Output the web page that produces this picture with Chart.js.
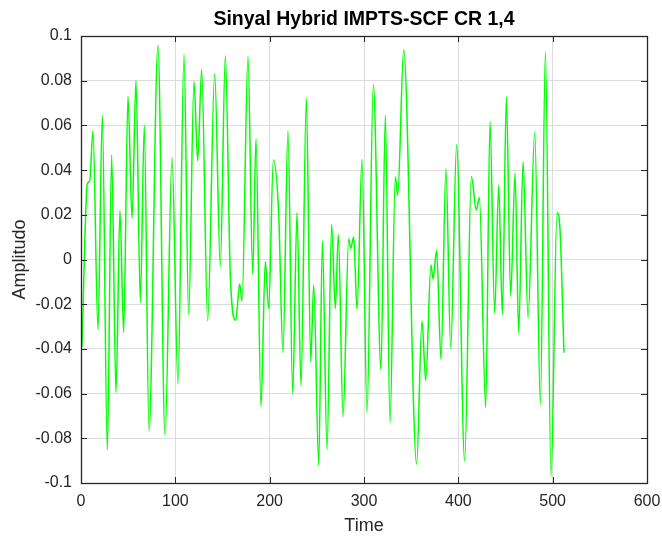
<!DOCTYPE html>
<html>
<head>
<meta charset="utf-8">
<script src="https://cdn.jsdelivr.net/npm/chart.js@4"></script>
<style>
  html, body { margin: 0; padding: 0; background: #fff; }
  #wrap { width: 662px; height: 539px; }
</style>
</head>
<body>
<div id="wrap"><canvas id="signalChart" width="662" height="539"></canvas></div>
<script>
// peaks and troughs
const timePoints = [
  1, 6.7, 9.2, 12.7, 18, 22.6, 27.9, 32.5, 37.1, 41.3, 45.2, 49.8, 54.1, 58.3, 62.9, 67.1, 72.1,
  81.6, 89.1, 96.5, 102.8, 109.2, 114.1, 119.8, 123.7, 127.9, 134.3, 141.7, 147.7, 153.0, 158.3,
  164.0, 168.2, 170.7, 177.0, 182.0, 185.5, 190.8, 195.4, 199.0, 203.9, 209.6, 214.1, 219.4,
  224.4, 229.0, 233.2, 238.9, 243.5, 246.7, 252.0, 255.9, 260.8, 265.7, 269.6, 272.8, 277.8,
  283.8, 285.9, 289.1, 292.6, 297.9, 303.2, 309.9, 318.0, 322.6, 327.6, 333.2, 335.7, 342.1,
  355.8, 361.5, 365.4, 371.0, 373.2, 377.0, 381.6, 386.9, 391.9, 398.2, 406.7, 413.8, 419.1,
  422.3, 429.0, 433.6, 438.5, 442.8, 446.7, 450.9, 455.5, 460.1, 464.0, 468.6, 473.9, 481.0,
  487.0, 492.3, 498.3, 504.6, 507.7, 512
];
const amplitudeValues = [
  -0.039, 0.034, 0.035, 0.0576, -0.0314, 0.0645, -0.0853, 0.0468, -0.0595, 0.0219, -0.0327, 0.073,
  0.0184, 0.080, -0.019, 0.060, -0.0768, 0.0959, -0.0786, 0.0458, -0.0557, 0.0919, -0.0247, 0.0796,
  0.0441, 0.085, -0.0275, 0.0832, -0.003, 0.0912, -0.0073, -0.0272, -0.011, -0.0186, 0.0909,
  -0.0065, 0.0539, -0.0657, -0.0009, -0.022, 0.0445, 0.0201, -0.0417, 0.0577, -0.0601, 0.0209,
  -0.0565, 0.0722, -0.0457, -0.0114, -0.092, 0.0083, -0.0852, 0.0157, -0.022, 0.0112, -0.0704,
  0.0093, 0.005, 0.0101, -0.0223, 0.0448, -0.0687, 0.0783, -0.0494, 0.0645, -0.0731, 0.0369,
  0.0287, 0.0938, -0.0916, -0.0275, -0.0542, -0.0024, -0.0087, 0.0041, -0.0447, 0.0406, -0.0398,
  0.0515, -0.0901, 0.0371, 0.0221, 0.0278, -0.0662, 0.0616, -0.024, 0.0332, -0.0246, 0.0727,
  -0.0164, 0.0386, -0.0329, 0.0438, -0.0262, 0.0571, -0.065, 0.0931, -0.0971, 0.0209, 0.014,
  -0.0417
];
const xTicks = [0, 100, 200, 300, 400, 500, 600];
const yTicks = [-0.1, -0.08, -0.06, -0.04, -0.02, 0, 0.02, 0.04, 0.06, 0.08, 0.1];

const axisColor = '#262626';
const fontFamily = 'Liberation Sans, Arial, sans-serif';

// MATLAB style box with inward tick marks
const boxPlugin = {
  id: 'boxPlugin',
  afterDraw(chart) {
    const ctx = chart.ctx;
    const a = chart.chartArea;
    const xs = chart.scales.x, ys = chart.scales.y;
    ctx.save();
    ctx.strokeStyle = axisColor;
    ctx.lineWidth = 1;
    ctx.beginPath();
    xTicks.forEach(v => {
      const p = Math.round(xs.getPixelForValue(v)) + 0.5;
      ctx.moveTo(p, a.bottom); ctx.lineTo(p, a.bottom - 6);
      ctx.moveTo(p, a.top); ctx.lineTo(p, a.top + 6);
    });
    yTicks.forEach(v => {
      const p = Math.round(ys.getPixelForValue(v)) + 0.5;
      ctx.moveTo(a.left, p); ctx.lineTo(a.left + 6, p);
      ctx.moveTo(a.right, p); ctx.lineTo(a.right - 6, p);
    });
    ctx.stroke();
    ctx.lineWidth = 1.3;
    ctx.strokeRect(Math.round(a.left) + 0.5, Math.round(a.top) + 0.5,
      Math.round(a.right - a.left), Math.round(a.bottom - a.top));
    ctx.restore();
  }
};

const points = timePoints.map((t, i) => ({ x: t, y: amplitudeValues[i] }));

new Chart(document.getElementById('signalChart').getContext('2d'), {
  type: 'line',
  data: {
    datasets: [{
      data: points,
      borderColor: '#00ff00',
      borderWidth: 1.5,
      pointRadius: 0,
      fill: false,
      cubicInterpolationMode: 'monotone'
    }]
  },
  options: {
    responsive: false,
    animation: false,
    layout: { padding: { left: 0, right: 15, top: 0, bottom: 0 } },
    plugins: {
      legend: { display: false },
      tooltip: { enabled: false },
      title: {
        display: true,
        text: 'Sinyal Hybrid IMPTS-SCF CR 1,4',
        fullSize: false,
        color: '#000',
        font: { family: fontFamily, size: 19.5, weight: 'bold', lineHeight: 1.2 },
        padding: { top: 8, bottom: 4.6 }
      }
    },
    scales: {
      x: {
        type: 'linear',
        min: 0,
        max: 600,
        afterBuildTicks: s => { s.ticks = xTicks.map(v => ({ value: v })); },
        afterFit: s => { s.height = 56; s.paddingRight = 0; s.paddingLeft = 0; },
        ticks: {
          color: axisColor,
          padding: 9,
          maxRotation: 0,
          font: { family: fontFamily, size: 16 }
        },
        grid: { color: '#dcdcdc', drawTicks: false },
        border: { display: false },
        title: {
          display: true,
          text: 'Time',
          color: axisColor,
          padding: { top: 2, bottom: 2 },
          font: { family: fontFamily, size: 18 }
        }
      },
      y: {
        type: 'linear',
        min: -0.1,
        max: 0.1,
        afterBuildTicks: s => { s.ticks = yTicks.map(v => ({ value: v })); },
        afterFit: s => { s.width = 81; s.paddingTop = 0; s.paddingBottom = 0; },
        ticks: {
          color: axisColor,
          padding: 9,
          font: { family: fontFamily, size: 16 },
          callback: v => String(Number(v.toFixed(2)))
        },
        grid: { color: '#dcdcdc', drawTicks: false },
        border: { display: false },
        title: {
          display: true,
          text: 'Amplitudo',
          color: axisColor,
          padding: { top: 9, bottom: 2 },
          font: { family: fontFamily, size: 18 }
        }
      }
    }
  },
  plugins: [boxPlugin]
});
</script>
</body>
</html>
